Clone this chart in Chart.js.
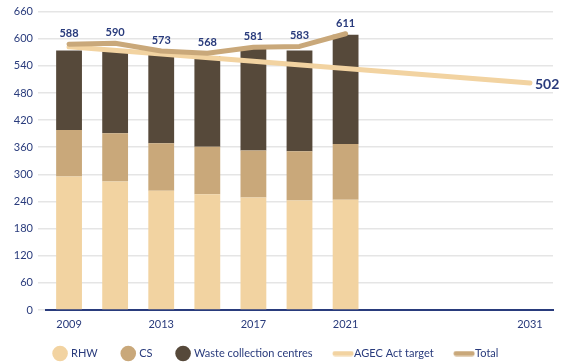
<!DOCTYPE html>
<html>
<head>
<meta charset="utf-8">
<script src="https://cdn.jsdelivr.net/npm/chart.js@4.4.0/dist/chart.umd.min.js"></script>
<style>
  html, body { margin: 0; padding: 0; background: #fff; }
  #wrap { width: 562px; height: 363px; }
</style>
</head>
<body>
<div id="wrap"><canvas id="wasteChart"></canvas></div>
<script>
// x categories, blank slots run out to the 2031 target year
var years = ['2009', '2011', '2013', '2015', '2017', '2019', '2021', '', '', '', '2031'];
var shownYears = ['2009', '2013', '2017', '2021', '2031'];

// tonnage by stream
var rhw          = [295, 284, 264, 256, 249, 242, 244];
var cs           = [103, 107, 105, 105, 104, 109, 123];
var wasteCentres = [176, 181, 198, 201, 225, 223, 242];
var total        = [588, 590, 573, 568, 581, 583, 611];
var agecTarget   = [582, null, null, null, null, null, null, null, null, null, 502];

var yMax = 660, yStep = 60;

var NAVY = '#293b7c';
var LIGHT = '#f2d3a1';
var MID = '#c9a87a';
var DARK = '#56493a';
var FONT = 'Lato';

// little rounded stroke used as legend marker for the lines
function lineSwatch(color) {
  var c = document.createElement('canvas');
  c.width = 22; c.height = 6;
  var g = c.getContext('2d');
  g.strokeStyle = color;
  g.lineWidth = 5;
  g.lineCap = 'round';
  g.beginPath();
  g.moveTo(3, 3);
  g.lineTo(19, 3);
  g.stroke();
  return c;
}

// value labels on the total line + end label of the target
var valueLabels = {
  id: 'valueLabels',
  afterInit: function (chart) {
    // keep the legend strip short so the plot reaches further down
    var legend = chart.legend;
    var baseFit = legend.fit;
    legend.fit = function () {
      baseFit.call(this);
      this.height = 40;
    };
  },
  afterDatasetsDraw: function (chart) {
    var ctx = chart.ctx;
    ctx.save();
    ctx.fillStyle = NAVY;
    ctx.font = 'bold 11px ' + FONT;
    ctx.textAlign = 'center';
    ctx.textBaseline = 'bottom';
    chart.getDatasetMeta(4).data.forEach(function (pt, i) {
      ctx.fillText(total[i], pt.x, pt.y - 5);
    });
    var last = chart.getDatasetMeta(3).data[agecTarget.length - 1];
    ctx.font = 'bold 14px ' + FONT;
    ctx.textAlign = 'left';
    ctx.textBaseline = 'middle';
    ctx.fillText(agecTarget[agecTarget.length - 1], last.x + 5, last.y + 1);
    ctx.restore();
  }
};

function barSet(label, data, color) {
  return {
    type: 'bar', label: label, data: data,
    backgroundColor: color, borderWidth: 0,
    pointStyle: 'circle', stack: 'bars', order: 3,
    categoryPercentage: 1, barPercentage: 0.56
  };
}

var ctx = document.getElementById('wasteChart').getContext('2d');
var chart = new Chart(ctx, {
  data: {
    labels: years,
    datasets: [
      barSet('RHW', rhw, LIGHT),
      barSet('CS', cs, MID),
      barSet('Waste collection centres', wasteCentres, DARK),
      {
        type: 'line', label: 'AGEC Act target', data: agecTarget,
        borderColor: LIGHT, backgroundColor: LIGHT, borderWidth: 5,
        borderCapStyle: 'round', pointRadius: 0, spanGaps: true,
        pointStyle: lineSwatch(LIGHT), stack: 'target', order: 2
      },
      {
        type: 'line', label: 'Total', data: total,
        borderColor: MID, backgroundColor: MID, borderWidth: 5,
        borderCapStyle: 'round', borderJoinStyle: 'round', pointRadius: 0,
        pointStyle: lineSwatch(MID), stack: 'total', order: 1
      }
    ]
  },
  options: {
    responsive: true,
    maintainAspectRatio: false,
    animation: false,
    layout: { padding: { top: 9, right: 9, left: 0, bottom: 0 } },
    plugins: {
      tooltip: { enabled: false },
      legend: {
        position: 'bottom',
        labels: {
          usePointStyle: true,
          color: NAVY,
          font: { family: FONT, size: 11 },
          padding: 25,
          sort: function (a, b) { return a.datasetIndex - b.datasetIndex; }
        }
      }
    },
    scales: {
      x: {
        stacked: true,
        grid: { display: false },
        border: { color: NAVY, width: 2 },
        ticks: {
          color: NAVY, autoSkip: false, maxRotation: 0, padding: 0,
          font: { family: FONT, size: 11 },
          callback: function (v, i) {
            return shownYears.indexOf(years[i]) >= 0 ? years[i] : '';
          }
        },
        afterFit: function (scale) {
          // thin axis strip; let the year labels spill below it unclipped
          scale.height = 13;
          scale._computeLabelArea = function () {};
        }
      },
      y: {
        stacked: true,
        min: 0, max: yMax,
        grid: { color: '#e5e5e5', lineWidth: 1.5, tickLength: 8 },
        border: { display: false },
        ticks: {
          stepSize: yStep, color: NAVY, padding: 5,
          font: { family: FONT, size: 11 }
        },
        afterFit: function (scale) { scale.width = 46; }
      }
    }
  },
  plugins: [valueLabels]
});
</script>
</body>
</html>
